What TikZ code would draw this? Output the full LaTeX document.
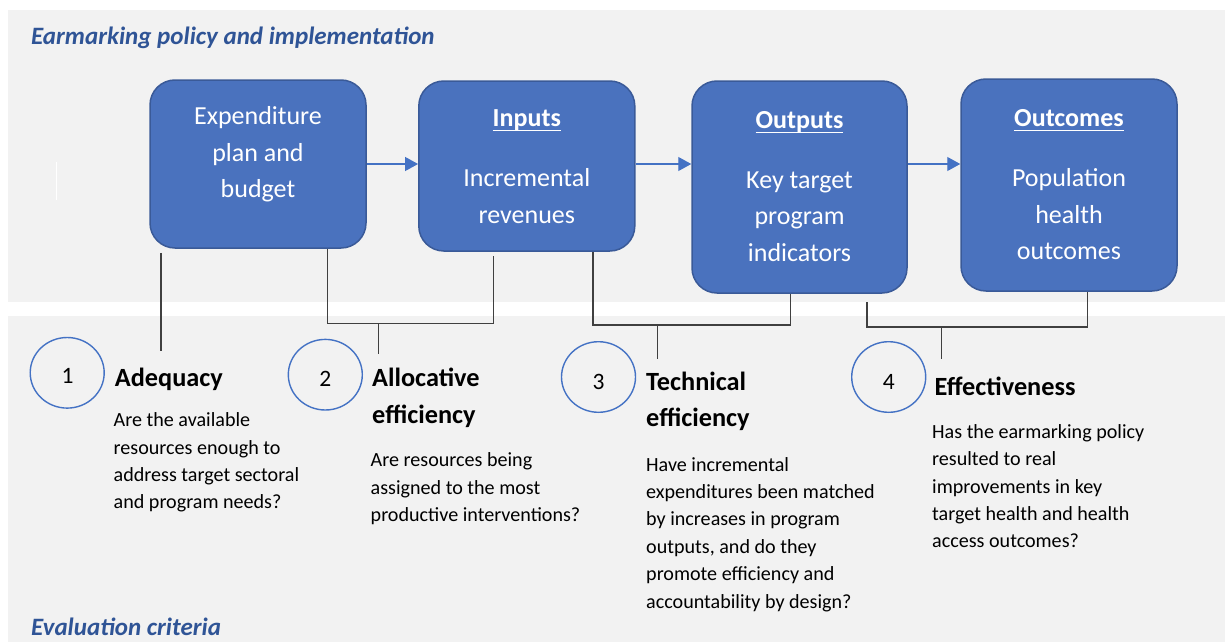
\documentclass[tikz,border=0pt]{standalone}
\usepackage{fontspec}
\setmainfont{Carlito}
\usetikzlibrary{arrows.meta,shapes.geometric}
\definecolor{panelgray}{HTML}{F2F2F2}
\definecolor{boxblue}{HTML}{4A72BE}
\definecolor{boxedge}{HTML}{3A5A98}
\definecolor{titleblue}{HTML}{2F5496}
\definecolor{circblue}{HTML}{4472C4}
\definecolor{linegray}{HTML}{404040}
\newcommand\ulword[1]{\setbox0\hbox{#1}\rlap{\rule[-4.6pt]{\wd0}{1.3pt}}\box0}
\begin{document}
\begin{tikzpicture}[x=1pt,y=-1pt,
  stagebox/.style={draw=boxedge, line width=1.5pt, fill=boxblue, rounded corners=25pt, inner sep=0pt, minimum width=216pt},
  stagetext/.style={text=white, inner sep=0pt, anchor=base, font=\fontsize{26}{36.5}\selectfont},
  flowarrow/.style={draw=circblue, line width=1.2pt, -{Triangle[length=13pt,width=14pt]}},
  bracket/.style={draw=linegray, line width=1.1pt},
  numcircle/.style={ellipse, draw=circblue, line width=1.4pt, minimum width=74pt, minimum height=70.6pt, inner sep=0pt},
  numtext/.style={anchor=base, inner sep=0pt, font=\fontsize{23.5}{26}\selectfont},
  headtext/.style={anchor=base west, inner sep=0pt, font=\fontsize{26.3}{36.7}\selectfont\bfseries},
  desctext/.style={anchor=base west, inner sep=0pt, font=\fontsize{20.1}{27.4}\selectfont},
  paneltitle/.style={anchor=base west, inner sep=0pt, text=titleblue, font=\fontsize{25}{30}\selectfont\bfseries\itshape}
]
\useasboundingbox (0,0) rectangle (1225,642);
\fill[white] (0,0) rectangle (1225,642);
\fill[panelgray] (8,10) rectangle (1225,302);
\fill[panelgray] (8,316) rectangle (1225,642);
\draw[white, line width=1pt] (56,162) -- (56,200);

% titles
\node[paneltitle] (ttop) at (31,45) {Earmarking policy and implementation};
\node[paneltitle] (tbot) at (31,635) {Evaluation criteria};

% stage boxes
\node[stagebox, minimum height=168pt] (b1) at (258,164) {};
\node[stagebox, minimum height=170pt] (b2) at (526.8,166) {};
\node[stagebox, minimum height=212pt, minimum width=215pt] (b3) at (799.5,187) {};
\node[stagebox, minimum height=212pt] (b4) at (1069,185) {};

\node[stagetext] (s1) at (258,124.5) {\begin{tabular}[t]{@{}c@{}}Expenditure\\plan and\\budget\end{tabular}};
\node[stagetext] (s2) at (526.8,126.7) {\begin{tabular}[t]{@{}c@{}}\ulword{\bfseries Inputs}\\[23.5pt]Incremental\\revenues\end{tabular}};
\node[stagetext] (s3) at (799.5,128.3) {\begin{tabular}[t]{@{}c@{}}\ulword{\bfseries Outputs}\\[23.5pt]Key target\\program\\indicators\end{tabular}};
\node[stagetext] (s4) at (1069,126.7) {\begin{tabular}[t]{@{}c@{}}\ulword{\bfseries Outcomes}\\[23.5pt]Population\\health\\outcomes\end{tabular}};

% flow arrows
\draw[flowarrow] (b1.east) -- (b1.east -| b2.west);
\draw[flowarrow] (b1.east -| b2.east) -- (b1.east -| b3.west);
\draw[flowarrow] (b1.east -| b3.east) -- (b1.east -| b4.west);

% connector coordinates
\coordinate (k1) at (161,351);
\coordinate (k2l) at (327.7,323.3);
\coordinate (k2r) at (493.3,323.3);
\coordinate (k2e) at (378.7,354.3);
\coordinate (k3l) at (593,325);
\coordinate (k3r) at (790.5,325);
\coordinate (k3e) at (657.8,359);
\coordinate (k4s) at (867,302);
\coordinate (k4l) at (867,327);
\coordinate (k4r) at (1087.5,327);
\coordinate (k4e) at (941.7,359);

\draw[bracket] ([yshift=-4pt]b1.south -| k1) -- (k1);
\draw[bracket] (b1.south -| k2l) -- (k2l) -- (k2r) -- ([yshift=-4pt]b2.south -| k2r);
\draw[bracket] (k2e |- k2l) -- (k2e);
\draw[bracket] (b2.south -| k3l) -- (k3l) -- (k3r) -- (b3.south -| k3r);
\draw[bracket] (k3e |- k3l) -- (k3e);
\draw[bracket] (k4s) -- (k4l) -- (k4r) -- (b4.south -| k4r);
\draw[bracket] (k4e |- k4l) -- (k4e);

% number circles
\node[numcircle] (c1) at (67.2,372.8) {};
\node[numcircle] (c2) at (325.3,374.7) {};
\node[numcircle] (c3) at (598.5,377) {};
\node[numcircle] (c4) at (888.7,377) {};
\node[numtext] (n1) at (67.5,383.8) {1};
\node[numtext] (n2) at (325.3,386.3) {2};
\node[numtext] (n3) at (598.5,389) {3};
\node[numtext] (n4) at (888.7,389) {4};

% criteria headings
\node[headtext] (h1) at (114.7,386.7) {\begin{tabular}[t]{@{}l@{}}Adequacy\end{tabular}};
\node[headtext] (h2) at (372,386.7) {\begin{tabular}[t]{@{}l@{}}Allocative\\efficiency\end{tabular}};
\node[headtext] (h3) at (646,390) {\begin{tabular}[t]{@{}l@{}}Technical\\efficiency\end{tabular}};
\node[headtext] (h4) at (934.5,395) {\begin{tabular}[t]{@{}l@{}}Effectiveness\end{tabular}};

% descriptions
\node[desctext] (d1) at (113.5,426.7) {\begin{tabular}[t]{@{}l@{}}Are the available\\resources enough to\\address target sectoral\\and program needs?\end{tabular}};
\node[desctext] (d2) at (370.5,466.7) {\begin{tabular}[t]{@{}l@{}}Are resources being\\assigned to the most\\productive interventions?\end{tabular}};
\node[desctext] (d3) at (646,471) {\begin{tabular}[t]{@{}l@{}}Have incremental\\expenditures been matched\\by increases in program\\outputs, and do they\\promote efficiency and\\accountability by design?\end{tabular}};
\node[desctext] (d4) at (932,438.3) {\begin{tabular}[t]{@{}l@{}}Has the earmarking policy\\resulted to real\\improvements in key\\target health and health\\access outcomes?\end{tabular}};
\end{tikzpicture}
\end{document}
